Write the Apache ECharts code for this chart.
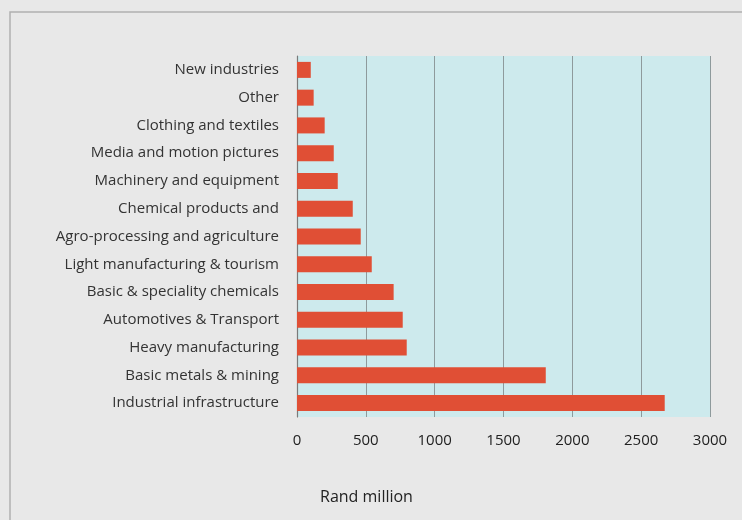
<!DOCTYPE html>
<html>
<head>
<meta charset="utf-8">
<script src="https://cdn.jsdelivr.net/npm/echarts@6/dist/echarts.min.js"></script>
<style>
html, body { margin: 0; padding: 0; background: #e8e8e8; }
#main { width: 742px; height: 520px; }
</style>
</head>
<body>
<div id="main"></div>
<script>
// categories, top to bottom
var industries = [
    'New industries',
    'Other',
    'Clothing and textiles',
    'Media and motion pictures',
    'Machinery and equipment',
    'Chemical products and',
    'Agro-processing and agriculture',
    'Light manufacturing & tourism',
    'Basic & speciality chemicals',
    'Automotives & Transport',
    'Heavy manufacturing',
    'Basic metals & mining',
    'Industrial infrastructure'
];
// Rand million
var amounts = [100, 121, 201, 267, 296, 405, 463, 543, 702, 768, 797, 1807, 2671];
var xTicks = [0, 500, 1000, 1500, 2000, 2500, 3000];

var fontFam = '"Open Sans", "Noto Sans", sans-serif';
var chart = echarts.init(document.getElementById('main'));
chart.setOption({
    backgroundColor: '#e8e8e8',
    animation: false,
    title: {
        text: 'Rand million',
        left: 315,
        top: 484,
        textStyle: { fontFamily: fontFam, fontSize: 16, fontWeight: 'normal', color: '#222' }
    },
    graphic: [{
        type: 'polyline',
        shape: { points: [[10, 520], [10, 12], [742, 12]] },
        style: { stroke: '#b0b0b0', lineWidth: 1.5, fill: null }
    }],
    grid: {
        left: 297, right: 32, top: 56, bottom: 103,
        show: true, backgroundColor: '#cdeaed', borderWidth: 0
    },
    xAxis: {
        type: 'value',
        min: xTicks[0],
        max: xTicks[xTicks.length - 1],
        interval: 500,
        axisLine: { show: false },
        axisTick: { show: false },
        splitLine: { show: true, lineStyle: { color: '#8e9a9c', width: 1 } },
        axisLabel: {
            margin: 16, fontFamily: fontFam, fontSize: 15, color: '#222',
            formatter: function (v) { return String(v); }
        }
    },
    yAxis: {
        type: 'category',
        inverse: true,
        data: industries,
        axisLine: { show: true, lineStyle: { color: '#7a7a7a', width: 1.2 } },
        axisTick: { show: false },
        axisLabel: { margin: 18, fontFamily: fontFam, fontSize: 15, color: '#333' }
    },
    series: [{
        type: 'bar',
        data: amounts,
        barWidth: 16,
        itemStyle: { color: '#e04f35' }
    }]
});
</script>
</body>
</html>
